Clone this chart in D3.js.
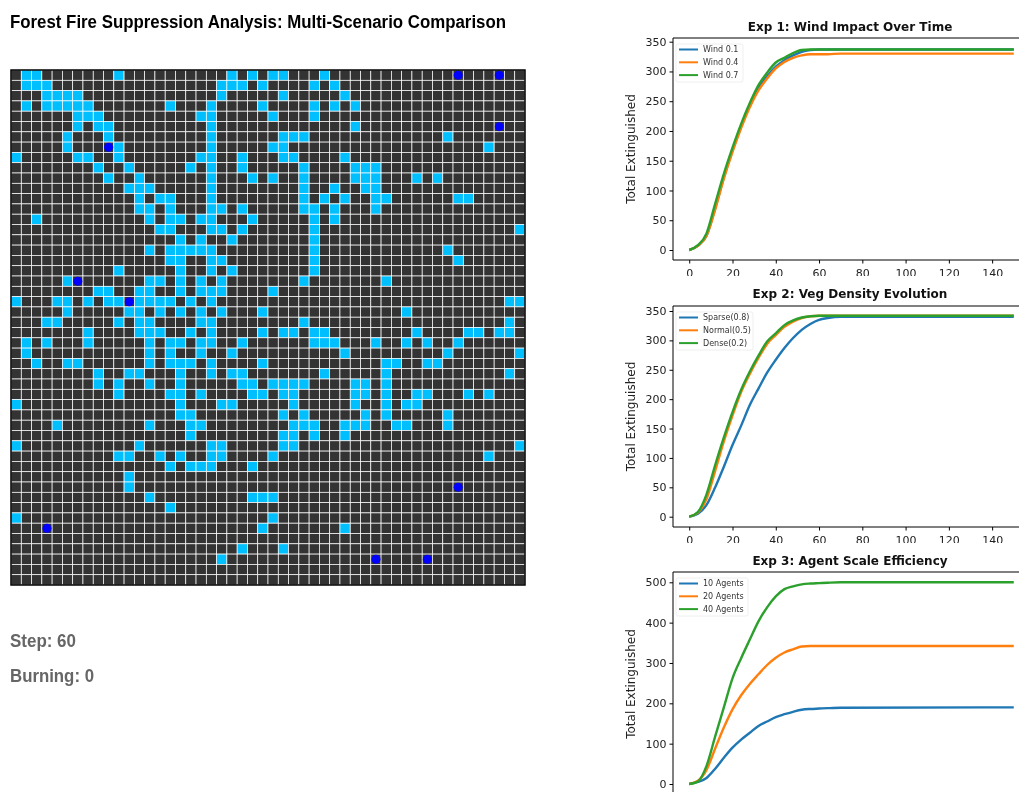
<!DOCTYPE html>
<html>
<head>
<meta charset="utf-8">
<script src="https://cdnjs.cloudflare.com/ajax/libs/d3/7.8.5/d3.min.js"></script>
<style>
  html, body { margin: 0; padding: 0; background: #fff; overflow: hidden; }
  svg { display: block; filter: blur(0.35px); }
</style>
</head>
<body>
<div id="wrapper"></div>
<script>
// grid state at step 60: row -> columns of extinguished cells
const extinguished = [
  [1,2,10,21,23,25,26,30],
  [1,2,3,20,21,22,24,29,31],
  [3,4,5,6,20,26,32],
  [1,3,4,5,6,7,15,19,24,29,31,33],
  [6,7,8,18,19,25,29],
  [6,8,9,19,33],
  [5,9,19,26,27,28,42],
  [5,10,19,25,26,46],
  [0,6,7,10,18,19,22,26,27,32],
  [8,11,17,19,22,28,33,34,35],
  [9,12,19,23,25,28,33,34,35,39,41],
  [11,12,13,19,28,31,34,35],
  [12,14,15,19,28,30,32,35,36,43,44],
  [12,13,15,19,20,22,28,29,31,35],
  [2,13,15,16,18,19,23,29,31],
  [14,15,19,20,22,29,49],
  [16,18,21,29],
  [13,15,16,17,18,19,29,42],
  [15,16,19,20,29,43],
  [10,16,19,21,29],
  [5,13,14,16,18,20,28,36],
  [8,9,12,13,16,18,19,20,25],
  [0,4,5,7,9,10,12,13,14,15,17,19,48,49],
  [5,11,12,14,16,18,20,24,38],
  [3,4,10,12,13,18,19,28,48],
  [7,12,13,14,17,19,24,26,27,29,30,39,44,45,47,48],
  [1,3,7,13,15,16,18,19,22,29,30,31,35,38,40,43],
  [1,13,15,18,21,32,42,49],
  [2,5,6,13,15,16,17,19,24,36,37,40,41],
  [8,11,12,16,19,21,22,30,36,48],
  [8,10,13,16,22,23,25,26,27,28,33,34,36],
  [10,15,16,18,23,24,26,27,33,34,36,39,40,44,46],
  [0,16,20,21,27,33,36,38,39],
  [16,17,26,28,34,36,42],
  [4,13,17,18,27,28,29,32,33,34,37,38,42],
  [17,26,27,29,32],
  [0,12,19,20,26,27,49],
  [10,11,14,16,19,20,25,46],
  [15,17,18,19,23],
  [11],
  [11],
  [13,23,24,25],
  [15],
  [0,25],
  [24,32],
  [],
  [22,26],
  [20],
  [],
  []
]

// agents as [row, col]
const agents = [[0,43],[0,47],[5,47],[7,9],[20,6],[22,11],[40,43],[44,3],[47,35],[47,40]]

const steps = [0,4,8,12,16,20,24,28,32,36,40,44,48,52,56,60,64,70,150]

const wind01 = [0,7,24,70,122,167,208,244,272,292,308,319,327,333,336,337,337,337,337]
const wind04 = [0,7,24,68,120,165,205,240,268,288,305,316,323,327,329,329,329,330,330]
const wind07 = [0,8,28,78,128,172,212,247,277,298,315,323,331,336,337,337,337,337,337]

const sparse = [0,5,20,50,85,122,155,190,218,245,267,287,304,318,328,335,338,340,340]
const normal = [0,7,30,78,128,172,212,243,270,294,309,323,332,338,341,342,342,342,342]
const dense  = [0,8,38,88,135,178,216,247,274,298,312,326,334,339,341,342,342,342,342]

const agents10 = [0,5,15,38,65,90,110,127,144,155,166,173,179,184,186,187,188,189,190]
const agents20 = [0,8,35,88,140,185,220,248,272,295,313,326,334,341,342,342,342,342,342]
const agents40 = [0,6,45,118,190,262,312,358,403,438,465,483,490,495,497,498,499,500,500]

const xTicks = [0,20,40,60,80,100,120,140]
const yTicks350 = [0,50,100,150,200,250,300,350]
const yTicks500 = [0,100,200,300,400,500]
const seriesColors = ["#1f77b4","#ff7f0e","#2ca02c"]

const wrapper = d3.select("#wrapper")
  .append("svg")
    .attr("width", 1019)
    .attr("height", 792)

// page title and status text
wrapper.append("text")
    .attr("x", 10).attr("y", 28)
    .attr("font-family", "Liberation Sans")
    .attr("font-weight", "bold")
    .attr("font-size", 18)
    .attr("textLength", 496)
    .attr("lengthAdjust", "spacingAndGlyphs")
    .text("Forest Fire Suppression Analysis: Multi-Scenario Comparison")

wrapper.selectAll(".status")
  .data([["Step: 60", 647, 66], ["Burning: 0", 682, 84]])
  .join("text")
    .attr("class", "status")
    .attr("x", 10)
    .attr("y", d => d[1])
    .attr("font-family", "Liberation Sans")
    .attr("font-weight", "bold")
    .attr("font-size", 18)
    .attr("fill", "#666")
    .attr("textLength", d => d[2])
    .attr("lengthAdjust", "spacingAndGlyphs")
    .text(d => d[0])

// the grid
const gridCells = d3.range(50)
const gridX = d3.scaleBand().domain(gridCells).range([11, 525])
const gridY = d3.scaleBand().domain(gridCells).range([70, 585])

const grid = wrapper.append("g")

const allCells = gridCells.flatMap(r => gridCells.map(c => ({
  r, c, on: extinguished[r].includes(c)
})))

grid.selectAll("rect.cell")
  .data(allCells)
  .join("rect")
    .attr("class", "cell")
    .attr("x", d => gridX(d.c))
    .attr("y", d => gridY(d.r))
    .attr("width", gridX.bandwidth())
    .attr("height", gridY.bandwidth())
    .attr("fill", d => d.on ? "#00bfff" : "#333333")
    .attr("stroke", "#fff")
    .attr("stroke-width", 0.7)

grid.selectAll("circle")
  .data(agents)
  .join("circle")
    .attr("cx", d => gridX(d[1]) + gridX.bandwidth() / 2)
    .attr("cy", d => gridY(d[0]) + gridY.bandwidth() / 2)
    .attr("r", 4.5)
    .attr("fill", "#0000ff")

grid.append("rect")
    .attr("x", 11).attr("y", 70)
    .attr("width", 514).attr("height", 515)
    .attr("fill", "none")
    .attr("stroke", "#000")
    .attr("stroke-width", 1.5)

// line charts
function drawChart(opts, idx) {
  const left = 673, right = 1030

  wrapper.append("clipPath").attr("id", "crop" + idx)
    .append("rect")
      .attr("x", 620).attr("y", opts.cropTop)
      .attr("width", 399).attr("height", opts.cropBottom - opts.cropTop)

  const bounds = wrapper.append("g")
      .attr("clip-path", `url(#crop${idx})`)

  const xScale = d3.scaleLinear().domain([-7.5, 157.5]).range([left, right])
  const yScale = d3.scaleLinear().domain([0, opts.yMax]).range([opts.y0, opts.yTop])

  const lineGenerator = d3.line()
      .x((v, i) => xScale(steps[i]))
      .y(v => yScale(v))
      .curve(d3.curveMonotoneX)

  opts.series.forEach((s, i) => {
    bounds.append("path")
        .attr("d", lineGenerator(s.values))
        .attr("fill", "none")
        .attr("stroke", seriesColors[i])
        .attr("stroke-width", 2.4)
  })

  // spines
  bounds.append("path")
      .attr("d", `M${left},${opts.bottom}H${right}M${left},${opts.top}H${right}`)
      .attr("stroke", "#000")
      .attr("fill", "none")

  const yAxis = bounds.append("g")
      .attr("transform", `translate(${left},0)`)
      .call(d3.axisLeft(yScale).tickValues(opts.yTicks).tickSize(3.5).tickPadding(3))
  yAxis.select(".domain").attr("d", `M0,${opts.top}V${opts.bottom}`)

  // the third panel runs off the page before its x axis
  if (opts.showXAxis) {
    const xAxis = bounds.append("g")
        .attr("transform", `translate(0,${opts.bottom})`)
        .call(d3.axisBottom(xScale).tickValues(xTicks).tickSize(3.5).tickPadding(6))
    xAxis.select(".domain").remove()
  }

  bounds.selectAll(".tick text")
      .attr("font-family", "DejaVu Sans")
      .attr("font-size", 11)
      .attr("fill", "#222")

  bounds.append("text")
      .attr("transform", `translate(635,${(opts.top + opts.bottom) / 2}) rotate(-90)`)
      .attr("text-anchor", "middle")
      .attr("font-family", "DejaVu Sans")
      .attr("font-size", 12)
      .attr("fill", "#222")
      .text("Total Extinguished")

  bounds.append("text")
      .attr("x", 850).attr("y", opts.titleY)
      .attr("text-anchor", "middle")
      .attr("font-family", "DejaVu Sans")
      .attr("font-weight", "bold")
      .attr("font-size", 12)
      .attr("fill", "#111")
      .text(opts.title)

  // legend
  const legend = bounds.append("g")
      .attr("transform", `translate(676,${opts.top + 6})`)
  legend.append("rect")
      .attr("width", opts.legendWidth).attr("height", 38).attr("rx", 2)
      .attr("fill", "#fff")
      .attr("stroke", "#e4e4e4")
      .attr("stroke-width", 0.6)
  opts.series.forEach((s, i) => {
    const ly = 5.5 + i * 12.8
    legend.append("line")
        .attr("x1", 3).attr("x2", 22)
        .attr("y1", ly).attr("y2", ly)
        .attr("stroke", seriesColors[i])
        .attr("stroke-width", 2)
    legend.append("text")
        .attr("x", 27).attr("y", ly + 2.9)
        .attr("font-family", "DejaVu Sans")
        .attr("font-size", 8)
        .attr("fill", "#333")
        .text(s.name)
  })
}

const charts = [
  {
    title: "Exp 1: Wind Impact Over Time", titleY: 31,
    top: 38, bottom: 260, y0: 250, yTop: 41.7, yMax: 350, showXAxis: true,
    yTicks: yTicks350, cropTop: 15, cropBottom: 276, legendWidth: 67,
    series: [
      { name: "Wind 0.1", values: wind01 },
      { name: "Wind 0.4", values: wind04 },
      { name: "Wind 0.7", values: wind07 }
    ]
  },
  {
    title: "Exp 2: Veg Density Evolution", titleY: 298,
    top: 306, bottom: 527, y0: 516.7, yTop: 311, yMax: 350, showXAxis: true,
    yTicks: yTicks350, cropTop: 283, cropBottom: 543, legendWidth: 77,
    series: [
      { name: "Sparse(0.8)", values: sparse },
      { name: "Normal(0.5)", values: normal },
      { name: "Dense(0.2)", values: dense }
    ]
  },
  {
    title: "Exp 3: Agent Scale Efficiency", titleY: 565,
    top: 572, bottom: 796, y0: 784, yTop: 582.3, yMax: 500, showXAxis: false,
    yTicks: yTicks500, cropTop: 550, cropBottom: 792, legendWidth: 72,
    series: [
      { name: "10 Agents", values: agents10 },
      { name: "20 Agents", values: agents20 },
      { name: "40 Agents", values: agents40 }
    ]
  }
]

charts.forEach(drawChart)
</script>
</body>
</html>
